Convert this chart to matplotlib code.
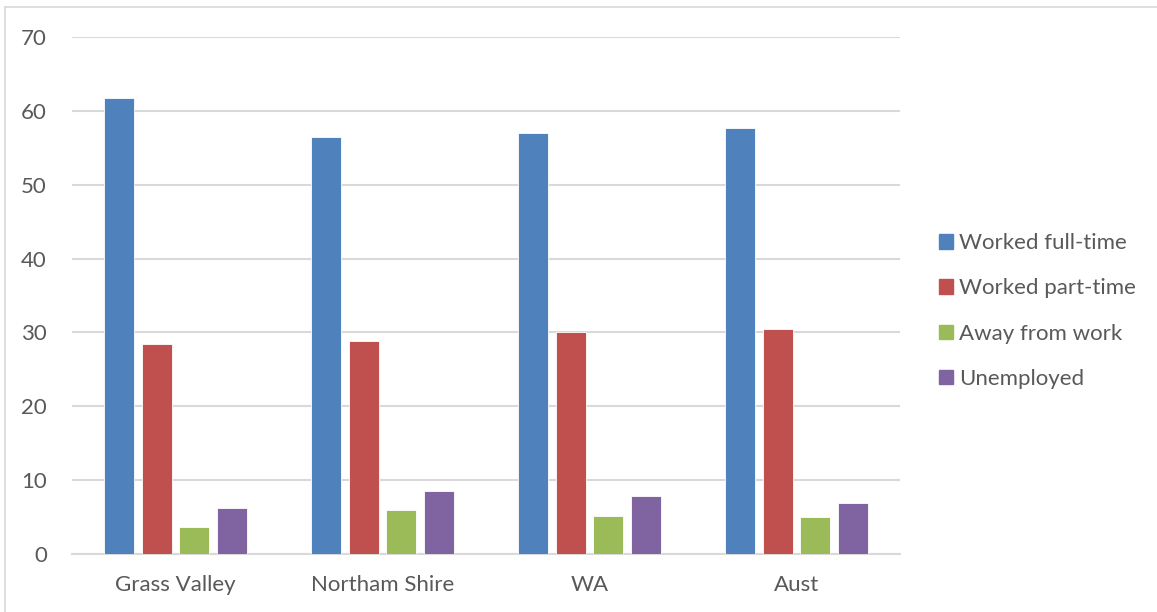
import matplotlib
matplotlib.use("Agg")
import matplotlib.pyplot as plt
import numpy as np
from matplotlib.lines import Line2D

categories = ["Grass Valley", "Northam Shire", "WA", "Aust"]
series_names = ["Worked full-time", "Worked part-time", "Away from work", "Unemployed"]
full_time = [61.7, 56.5, 57.0, 57.7]
part_time = [28.4, 28.8, 30.0, 30.4]
away = [3.7, 6.0, 5.1, 5.0]
unemployed = [6.2, 8.5, 7.8, 6.9]
colors = ["#4f81bd", "#c0504d", "#9bbb59", "#8064a2"]
yticks = [0, 10, 20, 30, 40, 50, 60, 70]

plt.rcParams['font.family'] = ['Lato', 'DejaVu Sans']
W, H = 1157, 612
fig = plt.figure(figsize=(W/100, H/100), dpi=100)
ax = fig.add_axes([72/W, 1-554/H, (900-72)/W, (554-37)/H])

x = np.arange(len(categories))
slot = 0.1816
bw = 0.145
all_series = [full_time, part_time, away, unemployed]
for i, (vals, name, c) in enumerate(zip(all_series, series_names, colors)):
    offs = (i - 1.5) * slot
    ax.bar(x + offs, vals, width=bw, color=c, label=name, edgecolor="white", linewidth=0.6, zorder=3)

ax.set_xlim(-0.5, 3.5)
ax.set_ylim(0, 70)
ax.set_yticks(yticks)
ax.set_xticks(x)
ax.set_xticklabels(categories)
ax.yaxis.grid(True, color="#d9d9d9", linewidth=1.5, zorder=0)
ax.set_axisbelow(True)
for s in ["top", "right", "left"]:
    ax.spines[s].set_visible(False)
ax.spines["bottom"].set_color("#d9d9d9")
ax.spines["bottom"].set_linewidth(1.5)
ax.tick_params(axis="both", length=0, labelsize=16, labelcolor="#595959")
ax.tick_params(axis="y", pad=18)
ax.tick_params(axis="x", pad=15)

handles = [plt.Rectangle((0, 0), 1, 1, color=c) for c in colors]
fig.legend(handles, series_names, loc="center left", bbox_to_anchor=(919/W, 1-311/H),
           frameon=False, fontsize=16, labelcolor="#595959", handlelength=0.62,
           handleheight=0.62, handletextpad=0.3, labelspacing=1.13)

# outer chart frame
fig.add_artist(Line2D([5/W, 5/W], [0, 1-7/H], color="#d9d9d9", linewidth=1.2, transform=fig.transFigure))
fig.add_artist(Line2D([5/W, 1], [1-7/H, 1-7/H], color="#d9d9d9", linewidth=1.2, transform=fig.transFigure))

fig.savefig("out.png", dpi=100)
